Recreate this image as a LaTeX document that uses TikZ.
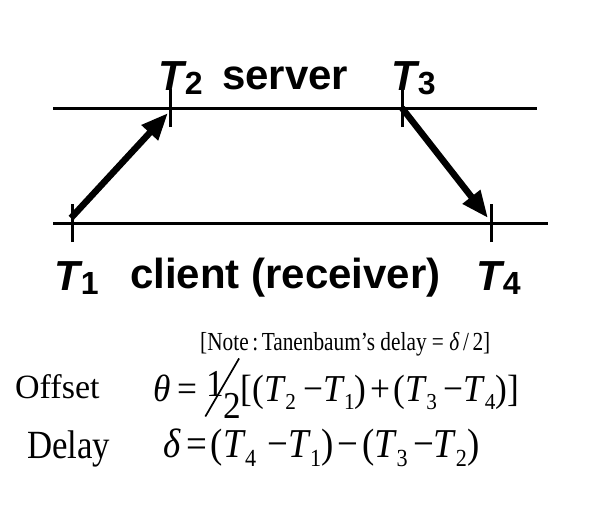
\documentclass[tikz,border=0pt]{standalone}
\usepackage{fontspec}
\setmainfont{Liberation Serif}
\setsansfont{Liberation Sans}
\usetikzlibrary{arrows.meta}
\tikzset{
  axis/.style={line width=3pt},
  tck/.style={line width=3pt},
  msg/.style={-{Triangle[length=27pt,width=21pt]},line width=6.5pt},
  lbl/.style={font=\fontsize{42}{42}\selectfont\sffamily\bfseries,anchor=base west,inner sep=0pt},
  eqn/.style={font=\fontsize{38}{38}\selectfont,anchor=base west,inner sep=0pt},
}
\newcommand{\tlab}[1]{\textit{T}\kern-2pt\raisebox{-4pt}{\fontsize{32}{32}\selectfont #1}}
\newcommand{\tv}[1]{\textit{T}\kern-0.02em\raisebox{-0.22em}{\scalebox{0.6}{#1}}}
\newcommand{\halfsl}{\rlap{\raisebox{-16pt}{\rotatebox{58}{\rule{68.5pt}{1.8pt}}}}\kern2pt\raisebox{5pt}{1}\kern-1pt\raisebox{-17pt}{2}}

\begin{document}
\begin{tikzpicture}[x=1pt,y=-1pt]
  \useasboundingbox (0,0) rectangle (591,528);
  % time lines
  \coordinate (sL) at (53,108);  \coordinate (sR) at (537,108);
  \coordinate (cL) at (53,223);  \coordinate (cR) at (548,223);
  \coordinate (t1) at (72,223);  \coordinate (t2) at (170,108);
  \coordinate (t3) at (402,108); \coordinate (t4) at (491,223);
  \draw[axis] (sL) -- (sR);
  \draw[axis] (cL) -- (cR);
  \foreach \t in {t1,t2,t3,t4}
    \draw[tck] ([yshift=-19pt]\t) -- ([yshift=19pt]\t);
  % messages
  \draw[msg] ([xshift=-1pt,yshift=5pt]t1) -- ([xshift=-2pt,yshift=-5pt]t2);
  \draw[msg] (t3) -- ([xshift=-3pt,yshift=5pt]t4);
  % labels
  \node[lbl] (l2) at (158,90) {\tlab{2}};
  \node[lbl] (srv) at (222,89) {server};
  \node[lbl] (l3) at (391,90) {\tlab{3}};
  \node[lbl] (l1) at (54,290) {\tlab{1}};
  \node[lbl] (cli) at (130,288) {client (receiver)};
  \node[lbl] (l4) at (476,290) {\tlab{4}};
  % formulas
  \node[eqn,font=\fontsize{26}{26}\selectfont] (note) at (200,350)
    {\scalebox{0.82}[1]{[Note\,:\,Tanenbaum's delay = \textit{δ}\,/\,2]}};
  \node[eqn,font=\fontsize{34}{34}\selectfont] (off) at (15,398) {Offset};
  \node[eqn] (offeq) at (153,401)
    {\scalebox{0.93}[1]{\textit{θ}\kern0.2em=\kern0.2em\halfsl[(\tv{2}\kern0.2em−\tv{1})\kern0.1em+\kern0.1em(\tv{3}\kern0.2em−\tv{4})]}};
  \node[eqn,font=\fontsize{40}{40}\selectfont] (del) at (27,458) {\scalebox{0.87}[1]{Delay}};
  \node[eqn,font=\fontsize{41}{41}\selectfont] (deleq) at (163,457)
    {\scalebox{0.9}[1]{\textit{δ}\kern0.15em=\kern0.1em(\tv{4}\kern0.3em−\tv{1})\kern0.12em−\kern0.1em(\tv{3}\kern0.15em−\tv{2})}};
\end{tikzpicture}
\end{document}
